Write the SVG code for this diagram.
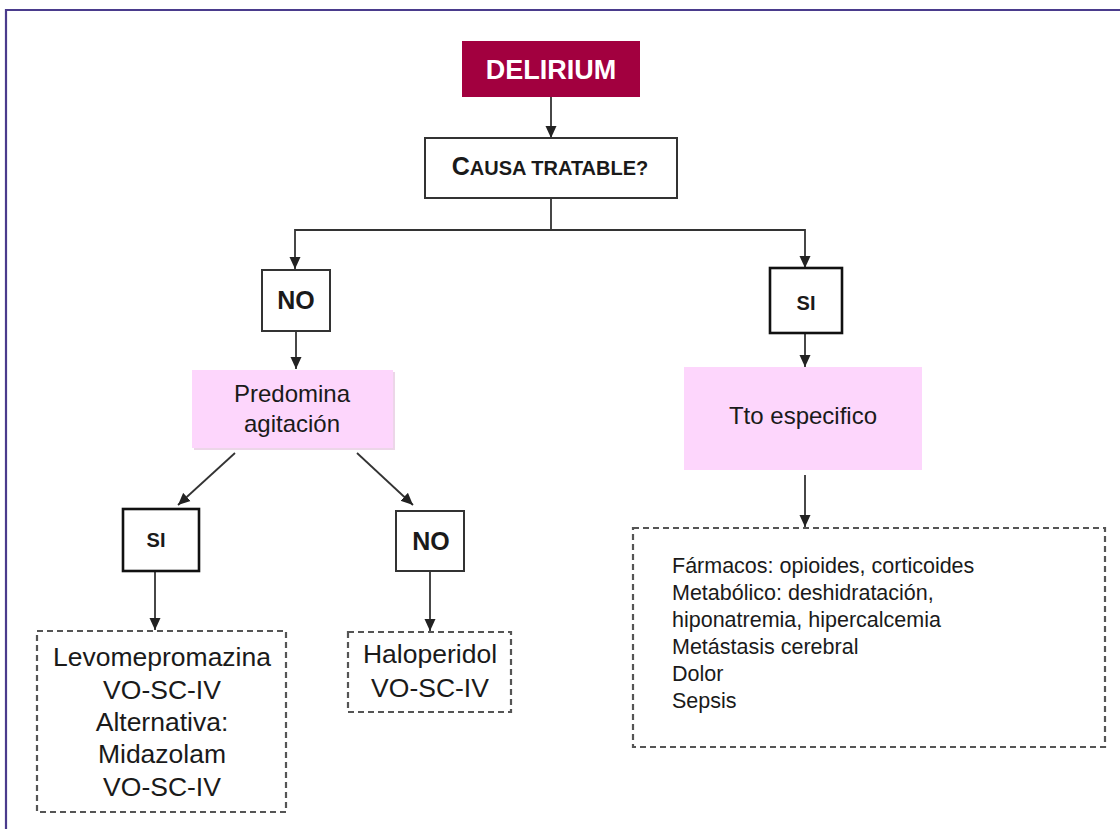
<svg xmlns="http://www.w3.org/2000/svg" width="1120" height="829" viewBox="0 0 1120 829">
<style>
.box{fill:#fff;stroke:#333;stroke-width:2}
.boxk{fill:#fff;stroke:#111;stroke-width:2.6}
.pink{fill:#fdd6fc}
.dash{fill:#fff;stroke:#555;stroke-width:2.2;stroke-dasharray:6 4}
.conn{stroke:#333;stroke-width:1.8;fill:none}
.t{font-family:"Liberation Sans",Arial,sans-serif;fill:#1a1a1a}
.b{font-weight:bold}
.c{text-anchor:middle}
</style>
<defs>
<marker id="arr" markerUnits="userSpaceOnUse" markerWidth="12" markerHeight="12" viewBox="0 0 12 12" refX="12" refY="6" orient="auto">
<path d="M0,0.5 L12,6 L0,11.5 z" fill="#222"/>
</marker>
</defs>
<rect x="0" y="0" width="1120" height="829" fill="#fff"/>
<path d="M6,829 L6,10 L1120,10" fill="none" stroke="#4a3b8c" stroke-width="2.2"/>

<g id="connectors">
<line class="conn" x1="551" y1="97" x2="551" y2="138" marker-end="url(#arr)"/>
<polyline class="conn" points="551,198 551,230 295,230 295,269" marker-end="url(#arr)"/>
<polyline class="conn" points="551,230 805,230 805,268" marker-end="url(#arr)"/>
<line class="conn" x1="296" y1="331" x2="296" y2="369" marker-end="url(#arr)"/>
<line class="conn" x1="805" y1="333" x2="805" y2="367" marker-end="url(#arr)"/>
<line class="conn" x1="235" y1="453" x2="178" y2="505" marker-end="url(#arr)"/>
<line class="conn" x1="357" y1="453" x2="413" y2="505" marker-end="url(#arr)"/>
<line class="conn" x1="155" y1="571" x2="155" y2="630" marker-end="url(#arr)"/>
<line class="conn" x1="430" y1="571" x2="430" y2="631" marker-end="url(#arr)"/>
<line class="conn" x1="805" y1="475" x2="805" y2="527" marker-end="url(#arr)"/>
</g>

<g id="delirium">
<rect x="462" y="41" width="178" height="56" fill="#a2003f"/>
<text class="t b c" x="551" y="79" font-size="27" style="fill:#fff">DELIRIUM</text>
</g>

<g id="causa">
<rect class="box" x="425" y="138" width="252" height="60"/>
<text class="t b c" x="550" y="175"><tspan font-size="25">C</tspan><tspan font-size="20">AUSA TRATABLE?</tspan></text>
</g>

<g id="no1">
<rect class="box" x="262" y="270" width="68" height="61"/>
<text class="t b c" x="296" y="309" font-size="25">NO</text>
</g>

<g id="si1">
<rect class="boxk" x="770" y="268" width="72" height="65"/>
<text class="t b c" x="806" y="310" font-size="20">SI</text>
</g>

<g id="predomina">
<rect x="194" y="372" width="201" height="78" fill="#ecd6e8"/>
<rect class="pink" x="192" y="370" width="201" height="78"/>
<text class="t c" x="292" y="402" font-size="24">Predomina</text>
<text class="t c" x="292" y="432" font-size="24">agitación</text>
</g>

<g id="tto">
<rect class="pink" x="684" y="367" width="238" height="103"/>
<text class="t c" x="803" y="424" font-size="24">Tto especifico</text>
</g>

<g id="si2">
<rect class="boxk" x="123" y="509" width="76" height="62"/>
<text class="t b c" x="156" y="547" font-size="20">SI</text>
</g>

<g id="no2">
<rect class="box" x="396" y="511" width="68" height="60"/>
<text class="t b c" x="431" y="550" font-size="25">NO</text>
</g>

<g id="levo">
<rect class="dash" x="37" y="631" width="249" height="181"/>
<text class="t c" x="162" y="666" font-size="26.5">Levomepromazina</text>
<text class="t c" x="162" y="699" font-size="26.5">VO-SC-IV</text>
<text class="t c" x="162" y="731" font-size="26.5">Alternativa:</text>
<text class="t c" x="162" y="763" font-size="26.5">Midazolam</text>
<text class="t c" x="162" y="796" font-size="26.5">VO-SC-IV</text>
</g>

<g id="haloperidol">
<rect class="dash" x="348" y="632" width="163" height="80"/>
<text class="t c" x="430" y="663" font-size="26.5">Haloperidol</text>
<text class="t c" x="430" y="697" font-size="26.5">VO-SC-IV</text>
</g>

<g id="causas">
<rect class="dash" x="633" y="528" width="472" height="219"/>
<text class="t" x="672" y="573" font-size="21.5">Fármacos: opioides, corticoides</text>
<text class="t" x="672" y="600" font-size="21.5">Metabólico: deshidratación,</text>
<text class="t" x="672" y="627" font-size="21.5">hiponatremia, hipercalcemia</text>
<text class="t" x="672" y="654" font-size="21.5">Metástasis cerebral</text>
<text class="t" x="672" y="681" font-size="21.5">Dolor</text>
<text class="t" x="672" y="708" font-size="21.5">Sepsis</text>
</g>
</svg>
